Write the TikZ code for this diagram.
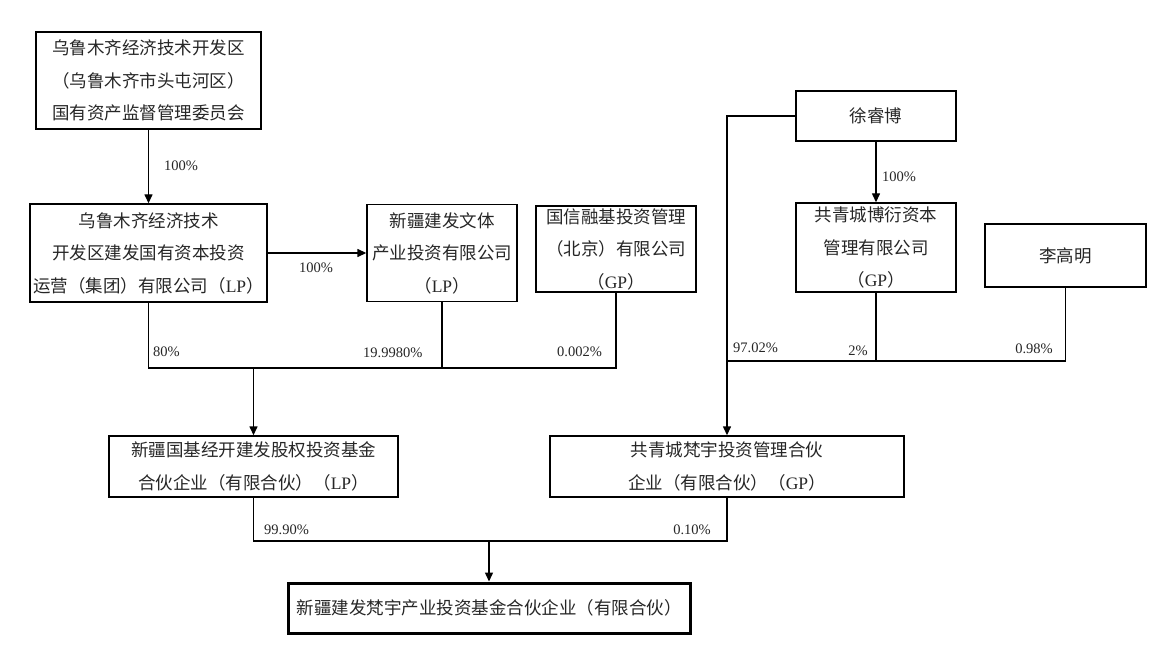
\documentclass[tikz,border=0pt]{standalone}
\usepackage{fontspec}
\setmainfont{Liberation Serif}
\newfontfamily\cjk{Noto Sans CJK SC}
\usetikzlibrary{arrows.meta}
\tikzset{
  box/.style={draw=black, line width=1.4pt, rectangle, inner sep=0pt, align=center,
    font=\cjk\fontsize{17.5}{32.5}\selectfont, text=black!85},
  conn/.style={draw=black, line width=1.4pt},
  arr/.style={conn, -{Triangle[length=9pt,width=8pt]}},
  pct/.style={font=\rmfamily\fontsize{14.5}{16}\selectfont, text=black!85, inner sep=0pt}
}
\begin{document}
\begin{tikzpicture}[x=1pt, y=-1pt]
\useasboundingbox (0,0) rectangle (1167,663);
% boxes
\node[box, minimum width=225pt, minimum height=97pt] (A) at (148.5,80.5)
  {乌鲁木齐经济技术开发区\\（乌鲁木齐市头屯河区）\\国有资产监督管理委员会};
\node[box, minimum width=237pt, minimum height=98pt] (B) at (148.5,253)
  {乌鲁木齐经济技术\\开发区建发国有资本投资\\运营（集团）有限公司（{\rmfamily LP}）};
\node[box, minimum width=150pt, minimum height=97pt] (C) at (442,253)
  {新疆建发文体\\产业投资有限公司\\（{\rmfamily LP}）};
\node[box, minimum width=160pt, minimum height=86pt] (D) at (616,249)
  {国信融基投资管理\\（北京）有限公司\\（{\rmfamily GP}）};
\node[box, minimum width=160pt, minimum height=50pt] (X) at (876,116) {徐睿博};
\node[box, minimum width=160pt, minimum height=89pt] (H) at (876,247.5)
  {共青城博衍资本\\管理有限公司\\（{\rmfamily GP}）};
\node[box, minimum width=161pt, minimum height=63pt] (L) at (1065.5,255.5) {李高明};
\node[box, minimum width=289pt, minimum height=61pt] (E) at (253.5,466.5)
  {新疆国基经开建发股权投资基金\\合伙企业（有限合伙）（{\rmfamily LP}）};
\node[box, minimum width=354pt, minimum height=61pt] (G) at (727,466.5)
  {共青城梵宇投资管理合伙\\企业（有限合伙）（{\rmfamily GP}）};
\node[box, line width=3pt, minimum width=402pt, minimum height=50pt] (F) at (489,608)
  {新疆建发梵宇产业投资基金合伙企业（有限合伙）};
% junctions
\coordinate (j1) at (253.5,368);
\coordinate (j2) at (876,361);
\coordinate (j3) at (489,541);
% connectors
\draw[arr] (A) -- (B);
\draw[arr] (B.east |- C.west) -- (C.west);
\draw[conn] (B.south) |- (D.south |- j1) -- (D.south);
\draw[conn] (C.south) -- (C.south |- j1);
\draw[arr] (j1) -- (E.north);
\draw[arr] (X.west) -| (G.north);
\draw[arr] (X.south) -- (H.north);
\draw[conn] (G.north |- j2) -- (L.south |- j2) -- (L.south);
\draw[conn] (H.south) -- (j2);
\draw[conn] (E.south) |- (G.south |- j3) -- (G.south);
\draw[arr] (j3) -- (F.north);
% labels
\node[pct] (l1) at (181,166) {100\%};
\node[pct] (l2) at (316,268) {100\%};
\node[pct, anchor=west] (l3) at (153,352) {80\%};
\node[pct, anchor=west] (l4) at (363,353) {19.9980\%};
\node[pct, anchor=west] (l5) at (557,352) {0.002\%};
\node[pct, anchor=west] (l6) at (882,177) {100\%};
\node[pct, anchor=west] (l7) at (733,348) {97.02\%};
\node[pct, anchor=east] (l8) at (868,351) {2\%};
\node[pct, anchor=east] (l9) at (1053,349) {0.98\%};
\node[pct, anchor=west] (l10) at (264,530) {99.90\%};
\node[pct, anchor=east] (l11) at (711,530) {0.10\%};
\end{tikzpicture}
\end{document}
